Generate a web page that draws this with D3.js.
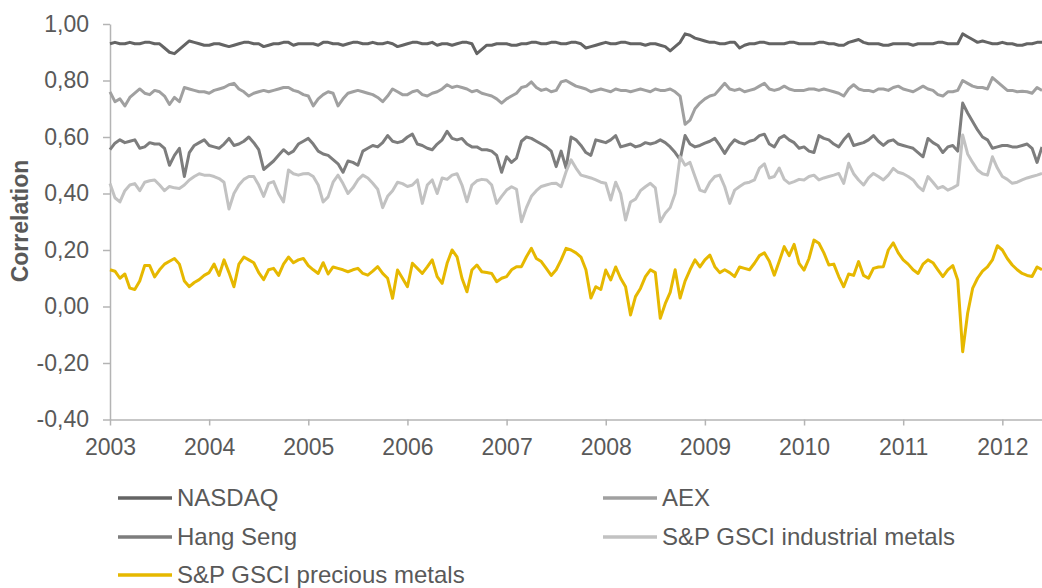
<!DOCTYPE html>
<html><head><meta charset="utf-8">
<script src="https://cdn.jsdelivr.net/npm/d3@7/dist/d3.min.js"></script>
<style>
body{margin:0;background:#fff}
svg{display:block;font-family:"Liberation Sans",Arial,sans-serif}
</style>
</head><body>
<svg id="chart" width="1042" height="588"></svg>
<script>
// ---- data: decimal years, one value every 0.05 year from 2003.00 to 2012.40 ----
const startYear = 2003;
const stepYear = 0.05;

const nasdaq = [
 0.93,0.935,0.93,0.93,0.935,0.93,0.93,0.935,0.935,0.93,0.93,0.915,0.90,0.895,0.91,0.925,0.94,0.935,0.93,0.925,
 0.925,0.93,0.93,0.925,0.92,0.925,0.93,0.935,0.935,0.93,0.93,0.92,0.925,0.93,0.93,0.935,0.935,0.925,0.93,0.93,
 0.93,0.93,0.925,0.935,0.935,0.93,0.93,0.925,0.93,0.935,0.935,0.93,0.93,0.935,0.93,0.93,0.935,0.93,0.92,0.925,
 0.93,0.935,0.935,0.93,0.93,0.935,0.925,0.93,0.93,0.925,0.93,0.935,0.935,0.93,0.895,0.91,0.925,0.925,0.93,0.93,
 0.93,0.925,0.925,0.93,0.93,0.935,0.935,0.93,0.93,0.935,0.935,0.93,0.93,0.935,0.935,0.93,0.915,0.92,0.925,0.93,
 0.935,0.93,0.93,0.935,0.935,0.93,0.93,0.93,0.925,0.93,0.93,0.925,0.92,0.905,0.92,0.935,0.965,0.96,0.95,0.945,
 0.94,0.935,0.935,0.93,0.93,0.935,0.935,0.915,0.925,0.93,0.93,0.935,0.935,0.93,0.93,0.93,0.93,0.935,0.935,0.93,
 0.93,0.93,0.93,0.935,0.935,0.93,0.93,0.925,0.925,0.935,0.94,0.945,0.935,0.93,0.93,0.93,0.925,0.925,0.93,0.93,
 0.93,0.93,0.925,0.93,0.93,0.93,0.93,0.935,0.935,0.93,0.93,0.93,0.965,0.955,0.945,0.935,0.94,0.935,0.93,0.93,
 0.935,0.93,0.93,0.925,0.925,0.93,0.93,0.935,0.935
];
const aex = [
 0.76,0.725,0.735,0.71,0.74,0.755,0.77,0.755,0.75,0.765,0.76,0.745,0.715,0.74,0.725,0.775,0.77,0.765,0.76,0.76,
 0.755,0.765,0.77,0.775,0.785,0.79,0.77,0.76,0.745,0.755,0.76,0.765,0.76,0.765,0.77,0.775,0.775,0.765,0.76,0.75,
 0.745,0.71,0.735,0.75,0.76,0.755,0.71,0.735,0.755,0.76,0.765,0.76,0.755,0.75,0.74,0.725,0.745,0.77,0.76,0.75,
 0.75,0.76,0.765,0.75,0.745,0.755,0.76,0.77,0.785,0.775,0.78,0.775,0.77,0.76,0.765,0.755,0.75,0.745,0.735,0.72,
 0.735,0.745,0.755,0.775,0.78,0.795,0.775,0.765,0.77,0.76,0.765,0.795,0.80,0.79,0.78,0.775,0.77,0.76,0.765,0.77,
 0.765,0.76,0.77,0.765,0.765,0.76,0.765,0.77,0.765,0.76,0.77,0.765,0.765,0.77,0.76,0.745,0.645,0.66,0.70,0.72,
 0.735,0.745,0.75,0.77,0.79,0.77,0.765,0.77,0.76,0.765,0.77,0.78,0.79,0.77,0.765,0.77,0.78,0.77,0.765,0.765,
 0.765,0.77,0.77,0.765,0.77,0.765,0.76,0.755,0.745,0.77,0.785,0.77,0.765,0.765,0.76,0.77,0.77,0.765,0.775,0.78,
 0.77,0.765,0.76,0.77,0.78,0.77,0.765,0.75,0.745,0.76,0.76,0.765,0.80,0.79,0.78,0.775,0.775,0.77,0.81,0.795,
 0.78,0.765,0.765,0.76,0.762,0.76,0.755,0.775,0.765
];
const hangSeng = [
 0.555,0.578,0.59,0.58,0.585,0.59,0.56,0.565,0.58,0.575,0.575,0.56,0.50,0.535,0.56,0.46,0.545,0.57,0.58,0.59,
 0.57,0.565,0.56,0.575,0.595,0.57,0.575,0.585,0.60,0.58,0.555,0.485,0.50,0.515,0.535,0.555,0.54,0.55,0.575,0.585,
 0.595,0.575,0.55,0.54,0.535,0.52,0.505,0.475,0.515,0.51,0.50,0.55,0.56,0.57,0.565,0.58,0.605,0.585,0.58,0.585,
 0.60,0.61,0.575,0.57,0.56,0.555,0.575,0.59,0.62,0.595,0.59,0.595,0.575,0.565,0.565,0.555,0.555,0.55,0.535,0.475,
 0.53,0.51,0.525,0.585,0.60,0.595,0.585,0.575,0.565,0.55,0.495,0.55,0.49,0.60,0.59,0.57,0.545,0.535,0.59,0.585,
 0.58,0.59,0.605,0.565,0.57,0.575,0.565,0.57,0.58,0.575,0.58,0.59,0.58,0.565,0.545,0.52,0.605,0.575,0.565,0.57,
 0.578,0.585,0.595,0.57,0.542,0.57,0.59,0.58,0.575,0.585,0.59,0.605,0.61,0.575,0.565,0.595,0.605,0.59,0.58,0.56,
 0.565,0.55,0.545,0.605,0.595,0.59,0.575,0.565,0.59,0.61,0.57,0.575,0.58,0.59,0.605,0.585,0.57,0.585,0.59,0.575,
 0.57,0.565,0.56,0.545,0.53,0.595,0.58,0.57,0.545,0.565,0.57,0.55,0.72,0.685,0.655,0.625,0.60,0.59,0.56,0.565,
 0.57,0.57,0.565,0.565,0.57,0.575,0.56,0.51,0.565
];
const industrialMetals = [
 0.435,0.385,0.37,0.41,0.43,0.435,0.41,0.44,0.445,0.448,0.43,0.41,0.425,0.42,0.418,0.43,0.448,0.46,0.47,0.465,
 0.465,0.46,0.453,0.44,0.345,0.40,0.43,0.45,0.46,0.46,0.43,0.39,0.436,0.442,0.40,0.37,0.483,0.47,0.465,0.47,
 0.471,0.46,0.43,0.37,0.388,0.44,0.465,0.435,0.40,0.42,0.448,0.465,0.455,0.436,0.415,0.35,0.39,0.41,0.44,0.435,
 0.425,0.43,0.448,0.365,0.43,0.448,0.40,0.455,0.45,0.465,0.47,0.43,0.371,0.43,0.445,0.45,0.448,0.43,0.365,0.39,
 0.412,0.424,0.415,0.30,0.35,0.39,0.41,0.425,0.43,0.435,0.436,0.424,0.477,0.519,0.49,0.465,0.46,0.455,0.448,0.44,
 0.436,0.377,0.44,0.40,0.306,0.37,0.38,0.41,0.424,0.436,0.42,0.30,0.33,0.35,0.40,0.53,0.50,0.51,0.46,0.412,
 0.406,0.44,0.46,0.465,0.424,0.365,0.412,0.425,0.436,0.44,0.448,0.49,0.505,0.455,0.46,0.49,0.45,0.436,0.442,0.45,
 0.448,0.46,0.465,0.448,0.455,0.46,0.465,0.471,0.436,0.507,0.47,0.448,0.43,0.455,0.471,0.46,0.448,0.465,0.489,0.475,
 0.47,0.46,0.448,0.425,0.41,0.46,0.44,0.418,0.425,0.412,0.42,0.43,0.607,0.54,0.51,0.483,0.47,0.465,0.53,0.49,
 0.46,0.45,0.436,0.44,0.448,0.455,0.46,0.465,0.471
];
const preciousMetals = [
 0.13,0.125,0.10,0.115,0.065,0.06,0.09,0.145,0.145,0.105,0.13,0.15,0.16,0.17,0.15,0.09,0.07,0.085,0.095,0.11,
 0.12,0.15,0.11,0.165,0.12,0.07,0.15,0.175,0.165,0.155,0.12,0.095,0.13,0.135,0.11,0.15,0.175,0.155,0.165,0.17,
 0.145,0.13,0.117,0.155,0.115,0.14,0.135,0.13,0.123,0.13,0.135,0.117,0.111,0.125,0.141,0.117,0.10,0.029,0.129,0.10,
 0.07,0.153,0.135,0.117,0.14,0.165,0.106,0.082,0.153,0.20,0.176,0.10,0.052,0.129,0.147,0.123,0.12,0.117,0.088,0.10,
 0.106,0.13,0.141,0.141,0.176,0.206,0.17,0.159,0.135,0.11,0.13,0.165,0.206,0.20,0.19,0.175,0.13,0.03,0.07,0.06,
 0.129,0.094,0.14,0.10,0.07,-0.03,0.035,0.064,0.106,0.13,0.12,-0.042,0.01,0.05,0.13,0.03,0.09,0.13,0.165,0.14,
 0.165,0.182,0.141,0.12,0.13,0.12,0.106,0.14,0.135,0.13,0.153,0.18,0.19,0.16,0.111,0.16,0.212,0.18,0.22,0.153,
 0.129,0.17,0.235,0.224,0.19,0.147,0.15,0.106,0.07,0.115,0.11,0.159,0.11,0.10,0.135,0.14,0.141,0.20,0.225,0.19,
 0.165,0.15,0.13,0.117,0.15,0.165,0.155,0.13,0.106,0.13,0.145,0.094,-0.16,-0.024,0.064,0.10,0.125,0.14,0.165,0.215,
 0.20,0.17,0.147,0.13,0.117,0.11,0.106,0.14,0.13
];

const seriesNames = ["NASDAQ","AEX","Hang Seng","S&P GSCI industrial metals","S&P GSCI precious metals"];
const seriesColors = ["#646464","#a0a0a0","#7d7d7d","#c2c2c2","#e6b800"];
const seriesValues = [nasdaq, aex, hangSeng, industrialMetals, preciousMetals];

const yTicks = [-0.4,-0.2,0,0.2,0.4,0.6,0.8,1.0];
const xTicks = [2003,2004,2005,2006,2007,2008,2009,2010,2011,2012];
const yLabel = "Correlation";

// ---- drawing ----
const svg = d3.select("#chart");
const textColor = "#595959";
const axisColor = "#b4b4b4";

const x = d3.scaleLinear().domain([2003, 2012.4]).range([110, 1042]);
const y = d3.scaleLinear().domain([-0.4, 1.0]).range([419.5, 24]);

const locale = d3.formatLocale({decimal:",", thousands:".", grouping:[3], currency:["",""], minus:"-"});
const fmt = locale.format(".2f");

const gy = svg.append("g").attr("transform","translate(110,0)")
  .call(d3.axisLeft(y).tickValues(yTicks).tickFormat(fmt).tickSize(7).tickSizeOuter(0).tickPadding(14));
const gx = svg.append("g").attr("transform","translate(0,419.5)")
  .call(d3.axisBottom(x).tickValues(xTicks).tickFormat(d3.format("d")).tickSize(6).tickSizeOuter(0).tickPadding(13));

[gy, gx].forEach(g => {
  g.select(".domain").attr("stroke", axisColor).attr("stroke-width", 1.5);
  g.selectAll(".tick line").attr("stroke", axisColor).attr("stroke-width", 1.5);
  g.selectAll(".tick text").attr("fill", textColor).attr("font-size", 23)
    .attr("font-family", '"Liberation Sans",Arial,sans-serif');
});

svg.append("text")
  .attr("transform","translate(28,221) rotate(-90)")
  .attr("text-anchor","middle")
  .attr("font-size",23).attr("font-weight","bold").attr("fill",textColor)
  .text(yLabel);

const line = d3.line()
  .x((d,i) => x(startYear + i*stepYear))
  .y(d => y(d));

seriesValues.forEach((vals,k) => {
  svg.append("path")
    .datum(vals)
    .attr("fill","none")
    .attr("stroke", seriesColors[k])
    .attr("stroke-width", 3)
    .attr("stroke-linejoin","round")
    .attr("d", line);
});

// legend
const legendPos = [[118,498],[603,498],[118,537],[603,537],[118,575]];
seriesNames.forEach((name,k) => {
  const [lx, ly] = legendPos[k];
  const g = svg.append("g").attr("transform",`translate(${lx},${ly})`);
  g.append("line").attr("x1",0).attr("x2",54).attr("y1",0).attr("y2",0)
    .attr("stroke", seriesColors[k]).attr("stroke-width",3.5);
  g.append("text").attr("x",59).attr("dy","0.35em")
    .attr("font-size",24).attr("fill",textColor).text(name);
});
</script>
</body></html>
